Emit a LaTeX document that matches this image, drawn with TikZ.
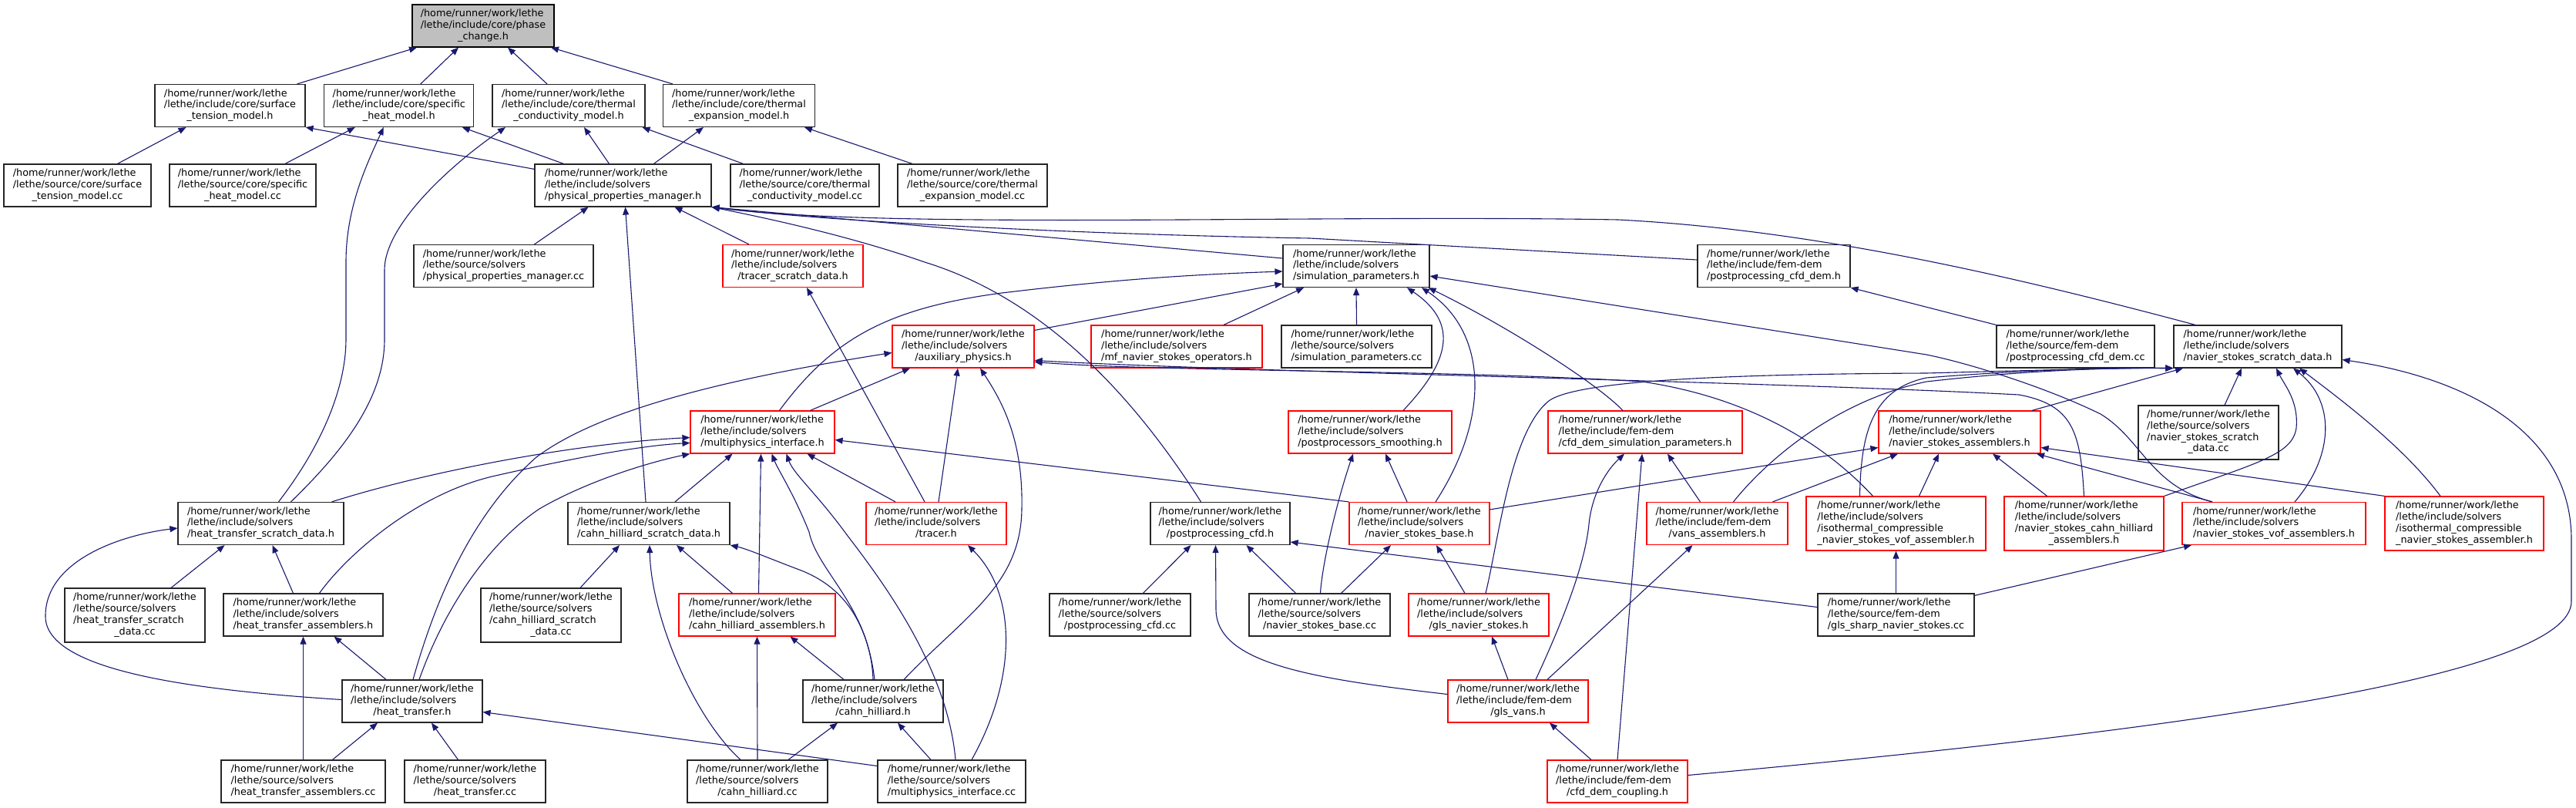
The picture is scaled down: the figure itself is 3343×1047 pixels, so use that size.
\documentclass[tikz,border=0pt]{standalone}
\usepackage{fontspec}
\setmainfont{DejaVu Sans}
\usetikzlibrary{arrows.meta}
\definecolor{edgeblue}{RGB}{25,25,112}
\definecolor{rootgray}{RGB}{191,191,191}
\newcommand\Lt[2]{\begin{tabular}{@{}l@{}}/home/runner/work/lethe\\#1\\\multicolumn{1}{@{}c@{}}{#2}\end{tabular}}
\newcommand\Lf[3]{\begin{tabular}{@{}l@{}}/home/runner/work/lethe\\#1\\#2\\\multicolumn{1}{@{}c@{}}{#3}\end{tabular}}
\tikzset{
 nd/.style={draw=black!85, line width=1.2pt, fill=white, inner sep=0pt, minimum height=55pt, font=\fontsize{12.8}{14.7}\selectfont},
 rd/.style={nd, draw=red},
 rt/.style={nd, fill=rootgray, draw=black},
 four/.style={minimum height=70pt},
 ed/.style={draw=edgeblue, line width=1.1pt, -{Triangle[length=10pt,width=8pt]}},
}
\begin{document}
\begin{tikzpicture}[x=1pt,y=-1pt]
\useasboundingbox (0,0) rectangle (3343,1047);
\fill[white] (0,0) rectangle (3343,1047);
% row 0
\node[rt, minimum width=184pt] (PC) at (627,33.5) {\Lt{/lethe/include/core/phase}{\_change.h}};
% row 1
\node[nd, minimum width=195pt] (STh) at (298.5,137) {\Lt{/lethe/include/core/surface}{\_tension\_model.h}};
\node[nd, minimum width=194pt] (SHh) at (517.8,137) {\Lt{/lethe/include/core/specific}{\_heat\_model.h}};
\node[nd, minimum width=198pt] (TCh) at (738,137) {\Lt{/lethe/include/core/thermal}{\_conductivity\_model.h}};
\node[nd, minimum width=197pt] (TEh) at (959,137) {\Lt{/lethe/include/core/thermal}{\_expansion\_model.h}};
% row 2
\node[nd, minimum width=191pt] (STcc) at (100.5,240.5) {\Lt{/lethe/source/core/surface}{\_tension\_model.cc}};
\node[nd, minimum width=190pt] (SHcc) at (315,240.5) {\Lt{/lethe/source/core/specific}{\_heat\_model.cc}};
\node[nd, minimum width=229pt] (PPMh) at (808.5,240.5) {\Lt{/lethe/include/solvers}{/physical\_properties\_manager.h}};
\node[nd, minimum width=193pt] (TCcc) at (1044.5,240.5) {\Lt{/lethe/source/core/thermal}{\_conductivity\_model.cc}};
\node[nd, minimum width=194pt] (TEcc) at (1262,240.5) {\Lt{/lethe/source/core/thermal}{\_expansion\_model.cc}};
% row 3
\node[nd, minimum width=233pt] (PPMcc) at (653.5,345) {\Lt{/lethe/source/solvers}{/physical\_properties\_manager.cc}};
\node[rd, minimum width=182pt] (TSDh) at (1029,345) {\Lt{/lethe/include/solvers}{/tracer\_scratch\_data.h}};
\node[nd, minimum width=190pt] (SPh) at (1760,345) {\Lt{/lethe/include/solvers}{/simulation\_parameters.h}};
\node[nd, minimum width=198pt] (PCDh) at (2302,345) {\Lt{/lethe/include/fem-dem}{/postprocessing\_cfd\_dem.h}};
% row 4
\node[rd, minimum width=184pt] (AUXh) at (1250,449.5) {\Lt{/lethe/include/solvers}{/auxiliary\_physics.h}};
\node[rd, minimum width=222pt] (MFh) at (1527,449.5) {\Lt{/lethe/include/solvers}{/mf\_navier\_stokes\_operators.h}};
\node[nd, minimum width=195pt] (SPcc) at (1760.5,449.5) {\Lt{/lethe/source/solvers}{/simulation\_parameters.cc}};
\node[nd, minimum width=205pt] (PCDcc) at (2693.5,449.5) {\Lt{/lethe/source/fem-dem}{/postprocessing\_cfd\_dem.cc}};
\node[nd, minimum width=218pt] (NSSDh) at (2930,449.5) {\Lt{/lethe/include/solvers}{/navier\_stokes\_scratch\_data.h}};
% row 5
\node[rd, minimum width=187pt] (MIh) at (989.5,560.5) {\Lt{/lethe/include/solvers}{/multiphysics\_interface.h}};
\node[rd, minimum width=212pt] (PSh) at (1778,560.5) {\Lt{/lethe/include/solvers}{/postprocessors\_smoothing.h}};
\node[rd, minimum width=252pt] (CDSPh) at (2135,560.5) {\Lt{/lethe/include/fem-dem}{/cfd\_dem\_simulation\_parameters.h}};
\node[rd, minimum width=210pt] (NSAh) at (2543,560.5) {\Lt{/lethe/include/solvers}{/navier\_stokes\_assemblers.h}};
\node[nd, four, minimum width=182pt] (NSSDcc) at (2866,561) {\Lf{/lethe/source/solvers}{/navier\_stokes\_scratch}{\_data.cc}};
% row 6
\node[nd, minimum width=215pt] (HTSDh) at (338.5,679) {\Lt{/lethe/include/solvers}{/heat\_transfer\_scratch\_data.h}};
\node[nd, minimum width=210pt] (CHSDh) at (842,679) {\Lt{/lethe/include/solvers}{/cahn\_hilliard\_scratch\_data.h}};
\node[rd, minimum width=182pt] (TRh) at (1215,679) {\Lt{/lethe/include/solvers}{/tracer.h}};
\node[nd, minimum width=181pt] (PCFDh) at (1583.5,679) {\Lt{/lethe/include/solvers}{/postprocessing\_cfd.h}};
\node[rd, minimum width=182pt] (NSBh) at (1842,679) {\Lt{/lethe/include/solvers}{/navier\_stokes\_base.h}};
\node[rd, minimum width=183pt] (VAh) at (2228.5,679) {\Lt{/lethe/include/fem-dem}{/vans\_assemblers.h}};
\node[rd, four, minimum width=233pt] (ISOVOFh) at (2460.5,679) {\Lf{/lethe/include/solvers}{/isothermal\_compressible}{\_navier\_stokes\_vof\_assembler.h}};
\node[rd, four, minimum width=207pt] (NSCHh) at (2704.5,679) {\Lf{/lethe/include/solvers}{/navier\_stokes\_cahn\_hilliard}{\_assemblers.h}};
\node[rd, minimum width=238pt] (NSVOFh) at (2951,679) {\Lt{/lethe/include/solvers}{/navier\_stokes\_vof\_assemblers.h}};
\node[rd, four, minimum width=206pt] (ISONSh) at (3198,679) {\Lf{/lethe/include/solvers}{/isothermal\_compressible}{\_navier\_stokes\_assembler.h}};
% row 7
\node[nd, four, minimum width=182pt] (HTSDcc) at (175,798) {\Lf{/lethe/source/solvers}{/heat\_transfer\_scratch}{\_data.cc}};
\node[nd, minimum width=207pt] (HTAh) at (393.5,797.5) {\Lt{/lethe/include/solvers}{/heat\_transfer\_assemblers.h}};
\node[nd, four, minimum width=182pt] (CHSDcc) at (715,798) {\Lf{/lethe/source/solvers}{/cahn\_hilliard\_scratch}{\_data.cc}};
\node[rd, minimum width=203pt] (CHAh) at (982.5,797.5) {\Lt{/lethe/include/solvers}{/cahn\_hilliard\_assemblers.h}};
\node[nd, minimum width=183pt] (PCFcc) at (1453.5,797.5) {\Lt{/lethe/source/solvers}{/postprocessing\_cfd.cc}};
\node[nd, minimum width=183pt] (NSBcc) at (1712.5,797.5) {\Lt{/lethe/source/solvers}{/navier\_stokes\_base.cc}};
\node[rd, minimum width=182pt] (GNSh) at (1919,797.5) {\Lt{/lethe/include/solvers}{/gls\_navier\_stokes.h}};
\node[nd, minimum width=203pt] (GSNScc) at (2460.5,797.5) {\Lt{/lethe/source/fem-dem}{/gls\_sharp\_navier\_stokes.cc}};
% row 8
\node[nd, minimum width=182pt] (HTh) at (535,909.5) {\Lt{/lethe/include/solvers}{/heat\_transfer.h}};
\node[nd, minimum width=182pt] (CHh) at (1133,909.5) {\Lt{/lethe/include/solvers}{/cahn\_hilliard.h}};
\node[rd, minimum width=182pt] (GVh) at (1970,909.5) {\Lt{/lethe/include/fem-dem}{/gls\_vans.h}};
% row 9
\node[nd, minimum width=213pt] (HTAcc) at (393.5,1013.5) {\Lt{/lethe/source/solvers}{/heat\_transfer\_assemblers.cc}};
\node[nd, minimum width=183pt] (HTcc) at (616.5,1013.5) {\Lt{/lethe/source/solvers}{/heat\_transfer.cc}};
\node[nd, minimum width=182pt] (CHcc) at (983,1013.5) {\Lt{/lethe/source/solvers}{/cahn\_hilliard.cc}};
\node[nd, minimum width=192pt] (MIcc) at (1235,1013.5) {\Lt{/lethe/source/solvers}{/multiphysics\_interface.cc}};
\node[rd, minimum width=182pt] (CDCh) at (2099,1013.5) {\Lt{/lethe/include/fem-dem}{/cfd\_dem\_coupling.h}};

% edges
\draw[ed] ([xshift=87pt]STh.north) -- ([xshift=-86pt]PC.south);
\draw[ed] ([xshift=28pt]SHh.north) -- ([xshift=-32pt]PC.south);
\draw[ed] ([xshift=-28pt]TCh.north) -- ([xshift=32pt]PC.south);
\draw[ed] ([xshift=-86pt]TEh.north) -- ([xshift=88pt]PC.south);
\draw[ed] ([xshift=52pt]STcc.north) -- ([xshift=-57pt]STh.south);
\draw[ed] ([yshift=-7pt]PPMh.north west) -- (STh.south east);
\draw[ed] ([xshift=55pt]SHcc.north) -- ([xshift=-57pt]SHh.south);
\draw[ed] ([xshift=-77pt]PPMh.north) -- ([xshift=82pt]SHh.south);
\draw[ed] ([xshift=23pt]HTSDh.north) .. controls (420,575) and (449,500) .. (449,440) -- (449,340) .. controls (449,270) and (475,215) .. ([xshift=-20pt]SHh.south);
\draw[ed] ([xshift=-80pt]TCcc.north) -- ([xshift=-4pt]TCh.south east);
\draw[ed] ([xshift=-18pt]PPMh.north) -- ([xshift=20pt]TCh.south);
\draw[ed] ([xshift=39pt]HTSDh.north) .. controls (440,590) and (499,520) .. (499,440) -- (499,350) .. controls (499,290) and (590,210) .. ([xshift=-82pt]TCh.south);
\draw[ed] ([xshift=40pt]PPMh.north) -- ([xshift=-46pt]TEh.south);
\draw[ed] ([xshift=-78pt]TEcc.north) -- ([xshift=85pt]TEh.south);
\draw[ed] ([xshift=40pt]PPMcc.north) -- ([xshift=-45pt]PPMh.south);
\draw[ed] ([xshift=-57pt]TSDh.north) -- ([xshift=67pt]PPMh.south);
\draw[ed] ([xshift=-4pt]CHSDh.north) -- ([xshift=3pt]PPMh.south);
\draw[ed] ([xshift=-25pt]PCFDh.north) .. controls (1450,480) and (1330,380) .. (1200,340) .. controls (1100,305) and (990,282) .. (PPMh.south east);
\draw[ed] ([yshift=10pt]SPh.west) -- (PPMh.south east);
\draw[ed] ([yshift=8pt]PCDh.west) -- (1700,309) .. controls (1450,305) and (1100,290) .. (PPMh.south east);
\draw[ed] ([xshift=-81pt]NSSDh.north) .. controls (2600,355) and (2350,298) .. (2100,285) .. controls (1700,278) and (1150,298) .. (PPMh.south east);
\draw[ed] (PCDcc.north west) -- (PCDh.south east);
\draw[ed] ([xshift=61pt]MFh.north) -- ([xshift=-68pt]SPh.south);
\draw[ed] (SPcc.north) -- (SPh.south);
\draw[ed] ([xshift=43pt]PSh.north) .. controls (1880,470) and (1895,420) .. ([xshift=66pt]SPh.south);
\draw[ed] ([xshift=21pt]NSBh.north) .. controls (1935,540) and (1930,430) .. ([xshift=85pt]SPh.south);
\draw[ed] ([xshift=-29pt]CDSPh.north) .. controls (2070,495) and (1950,420) .. ([xshift=-2pt]SPh.south east);
\draw[ed] ([xshift=-80pt]NSVOFh.north) .. controls (2790,630) and (2780,570) .. (2726,537) .. controls (2650,500) and (2550,470) .. (2500,460) -- ([yshift=-13pt]SPh.east);
\draw[ed] ([xshift=22pt]MIh.north) .. controls (1080,440) and (1150,400) .. (1300,380) .. controls (1450,362) and (1550,356) .. ([yshift=-7pt]SPh.west);
\draw[ed] ([yshift=-7pt]AUXh.north east) -- ([yshift=-23pt]SPh.west);
\draw[ed] ([xshift=62pt]MIh.north) -- ([xshift=-69pt]AUXh.south);
\draw[ed] ([xshift=3pt]TRh.north) -- ([xshift=-7pt]AUXh.south);
\draw[ed] ([xshift=40pt]CHh.north) .. controls (1250,800) and (1325,760) .. (1326,660) .. controls (1328,570) and (1300,520) .. ([xshift=22pt]AUXh.south);
\draw[ed] ([xshift=1pt]HTh.north) .. controls (570,760) and (620,660) .. (696,593) .. controls (780,530) and (950,490) .. ([yshift=-8pt]AUXh.west);
\draw[ed] ([xshift=-30pt]ISOVOFh.north) .. controls (2390,600) and (2300,520) .. (2131,495) .. controls (1900,480) and (1500,482) .. ([yshift=-20pt]AUXh.east);
\draw[ed] (NSCHh.north) .. controls (2700,560) and (2690,525) .. (2620,512) .. controls (2300,495) and (1600,482) .. ([yshift=-18pt]AUXh.east);
\draw[ed] ([xshift=-15pt]TRh.north) -- ([xshift=18pt]TSDh.south);
\draw[ed] ([xshift=92pt]HTSDh.north) .. controls (560,610) and (750,575) .. ([yshift=-7pt]MIh.west);
\draw[ed] ([xshift=21pt]HTAh.north) .. controls (450,720) and (540,640) .. (643,617) .. controls (740,595) and (830,578) .. ([yshift=-14pt]MIh.west);
\draw[ed] ([xshift=9pt]HTh.north) .. controls (580,780) and (640,700) .. (700,660) .. controls (760,625) and (840,600) .. (MIh.south west);
\draw[ed] ([xshift=34pt]CHSDh.north) -- ([xshift=-39pt]MIh.south);
\draw[ed] ([xshift=2pt]CHAh.north) -- ([xshift=-2pt]MIh.south);
\draw[ed] (CHh.north) .. controls (1130,790) and (1060,740) .. (1050,690) .. controls (1030,640) and (1010,610) .. ([xshift=12pt]MIh.south);
\draw[ed] ([xshift=5pt]MIcc.north) .. controls (1230,870) and (1150,760) .. (1100,695) .. controls (1060,640) and (1030,615) .. ([xshift=31pt]MIh.south);
\draw[ed] ([xshift=-53pt]TRh.north) -- ([xshift=58pt]MIh.south);
\draw[ed] (NSBh.north west) -- ([yshift=-10pt]MIh.east);
\draw[ed] ([xshift=1pt]NSBcc.north) .. controls (1716,730) and (1735,650) .. ([xshift=-22pt]PSh.south);
\draw[ed] ([xshift=-16pt]NSBh.north) -- ([xshift=20pt]PSh.south);
\draw[ed] ([xshift=23pt]GVh.north) .. controls (2040,780) and (2058,720) .. (2062,680) .. controls (2066,640) and (2085,610) .. ([xshift=-27pt]CDSPh.south);
\draw[ed] (CDCh.north) -- ([xshift=-4pt]CDSPh.south);
\draw[ed] ([xshift=-22pt]VAh.north) -- ([xshift=29pt]CDSPh.south);
\draw[ed] ([yshift=-10pt]NSBh.north east) -- ([yshift=-20pt]NSAh.west);
\draw[ed] ([xshift=72pt]VAh.north) -- ([xshift=-80pt]NSAh.south);
\draw[ed] ([xshift=30pt]ISOVOFh.north) -- ([xshift=-27pt]NSAh.south);
\draw[ed] ([xshift=-48pt]NSCHh.north) -- ([xshift=43pt]NSAh.south);
\draw[ed] ([xshift=-80pt]NSVOFh.north) -- ([xshift=100pt]NSAh.south);
\draw[ed] (ISONSh.north west) -- ([yshift=-20pt]NSAh.east);
\draw[ed] ([xshift=94pt]NSAh.north) -- ([xshift=-97pt]NSSDh.south);
\draw[ed] ([xshift=21pt]NSSDcc.north) -- ([xshift=-21pt]NSSDh.south);
\draw[ed] (NSCHh.north east) .. controls (2930,600) and (2975,590) .. (2980,555) .. controls (2983,520) and (2965,500) .. ([xshift=24pt]NSSDh.south);
\draw[ed] ([xshift=27pt]NSVOFh.north) .. controls (3030,590) and (3030,520) .. ([xshift=46pt]NSSDh.south);
\draw[ed] ([xshift=-31pt]ISONSh.north) .. controls (3120,580) and (3040,520) .. ([xshift=54pt]NSSDh.south);
\draw[ed] ([yshift=8pt]CDCh.east) .. controls (2800,950) and (3337,880) .. (3337,780) -- (3337,700) .. controls (3337,560) and (3200,490) .. ([yshift=-17pt]NSSDh.east);
\draw[ed] ([xshift=21pt]VAh.north) .. controls (2290,600) and (2380,520) .. (2500,495) .. controls (2650,478) and (2760,477) .. (NSSDh.south west);
\draw[ed] ([xshift=-47pt]ISOVOFh.north) .. controls (2415,560) and (2430,505) .. (2500,490) .. controls (2650,478) and (2760,477) .. (NSSDh.south west);
\draw[ed] ([xshift=9pt]GNSh.north) .. controls (1945,700) and (1960,560) .. (2010,520) .. controls (2050,490) and (2300,485) .. (2500,484) .. controls (2650,480) and (2760,477) .. (NSSDh.south west);
\draw[ed] ([xshift=47pt]HTSDcc.north) -- ([xshift=-47pt]HTSDh.south);
\draw[ed] ([xshift=-13pt]HTAh.north) -- ([xshift=15pt]HTSDh.south);
\draw[ed] ([yshift=2pt]HTh.west) .. controls (250,895) and (60,870) .. (59,800) .. controls (58,730) and (150,695) .. ([yshift=-6pt]HTSDh.west);
\draw[ed] ([xshift=38pt]CHSDcc.north) -- ([xshift=-38pt]CHSDh.south);
\draw[ed] ([xshift=-22pt]CHcc.north) .. controls (900,930) and (845,800) .. ([xshift=1pt]CHSDh.south);
\draw[ed] ([xshift=-32pt]CHAh.north) -- ([xshift=36pt]CHSDh.south);
\draw[ed] ([xshift=2pt]CHh.north) .. controls (1125,800) and (1090,760) .. (1040,740) .. controls (1000,725) and (970,712) .. (CHSDh.south east);
\draw[ed] ([xshift=26pt]MIcc.north) .. controls (1320,880) and (1320,770) .. ([xshift=41pt]TRh.south);
\draw[ed] ([xshift=30pt]PCFcc.north) -- ([xshift=-38pt]PCFDh.south);
\draw[ed] ([yshift=9pt]GVh.west) .. controls (1700,880) and (1578,860) .. (1578,790) -- ([xshift=-6pt]PCFDh.south);
\draw[ed] ([xshift=-31pt]NSBcc.north) -- ([xshift=34pt]PCFDh.south);
\draw[ed] ([yshift=10pt]GSNScc.west) -- ([yshift=-24pt]PCFDh.east);
\draw[ed] ([xshift=28pt]NSBcc.north) -- ([xshift=-37pt]NSBh.south);
\draw[ed] ([xshift=-18pt]GNSh.north) -- ([xshift=22pt]NSBh.south);
\draw[ed] ([xshift=-13pt]GVh.north) -- ([xshift=17pt]GNSh.south);
\draw[ed] ([xshift=-34pt]CDCh.north) -- ([xshift=41pt]GVh.south);
\draw[ed] ([xshift=38pt]GVh.north) -- ([xshift=-32pt]VAh.south);
\draw[ed] (GSNScc.north) -- (ISOVOFh.south);
\draw[ed] ([yshift=-3pt]GSNScc.north east) -- ([xshift=-107pt]NSVOFh.south);
\draw[ed] (HTAcc.north) -- (HTAh.south);
\draw[ed] ([xshift=-34pt]HTh.north) -- ([xshift=40pt]HTAh.south);
\draw[ed] ([xshift=38pt]HTAcc.north) -- ([xshift=-45pt]HTh.south);
\draw[ed] ([xshift=-22pt]HTcc.north) -- ([xshift=25pt]HTh.south);
\draw[ed] ([yshift=20pt]MIcc.west) -- ([yshift=-14pt]HTh.east);
\draw[ed] (CHcc.north) -- (CHAh.south);
\draw[ed] ([xshift=-38pt]CHh.north) -- ([xshift=43pt]CHAh.south);
\draw[ed] ([xshift=40pt]CHcc.north) -- ([xshift=-46pt]CHh.south);
\draw[ed] ([xshift=-27pt]MIcc.north) -- ([xshift=32pt]CHh.south);
\end{tikzpicture}
\end{document}
